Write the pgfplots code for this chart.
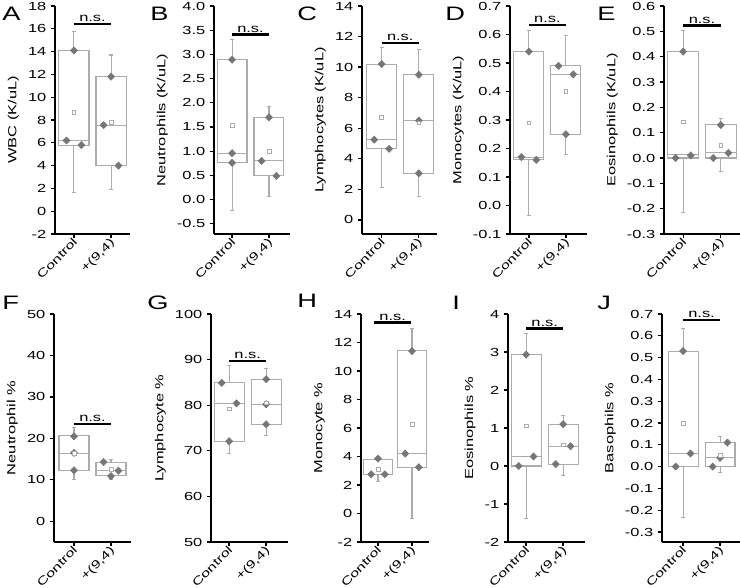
\documentclass[border=0pt]{standalone}
\usepackage{fontspec}
\setmainfont{Liberation Sans}[FakeStretch=1.4]
\usepackage{pgfplots}
\pgfplotsset{compat=1.18}
\usepgfplotslibrary{statistics}
\definecolor{boxgray}{RGB}{172,172,172}
\definecolor{ptgray}{RGB}{118,118,118}
\newcommand{\tfont}{\fontsize{8.8}{10}\selectfont}
\newcommand{\xfont}{\fontsize{8.5}{10}\selectfont}
\newcommand{\lfont}{\fontsize{14.6}{16}\selectfont}
\pgfplotsset{
 panel/.style={
  scale only axis, height=171pt, anchor=south west,
  axis x line=bottom, axis y line=left,
  axis line style={-, line width=1.4pt, black},
  tick align=outside, major tick length=3pt,
  major tick style={line width=1pt, black},
  xtick={0,1}, xticklabels={Control,{+(9,4)}},
  tick label style={font=\tfont},
  xticklabel style={rotate=45, anchor=north east, inner sep=0.5pt, yshift=2pt, font=\xfont},
  label style={font=\tfont},
  /pgf/number format/assume math mode=true,
  boxplot/draw direction=y,
  clip=false,
 },
 dec1/.style={yticklabel style={/pgf/number format/.cd, fixed, fixed zerofill, precision=1}},
 bx/.style={draw=boxgray, line width=0.8pt, solid},
 pts/.style={only marks, mark=diamond*, mark size=2.7pt, color=ptgray, mark options={xscale=1.3}},
 mn/.style={only marks, mark=square*, mark size=1.4pt, mark options={draw=boxgray, fill=white, line width=0.5pt}},
 ns/.style={black, line width=1.6pt},
}
\begin{document}
\begin{tikzpicture}
\useasboundingbox (0,0) rectangle (555pt,441pt);
% ---------------- A
\begin{axis}[panel, at={(41.25pt,265.5pt)}, width=56.25pt, xmin=-0.51, xmax=1.51,
  ymin=-2, ymax=18, ytick={-2,0,...,18}, ylabel={WBC (K/uL)}]
\addplot[bx, boxplot prepared={draw position=0, box extend=0.81, whisker extend=0.11,
  lower whisker=1.68, lower quartile=5.8, median=6.2, upper quartile=14.1, upper whisker=15.75}] coordinates {};
\addplot[bx, boxplot prepared={draw position=1, box extend=0.81, whisker extend=0.11,
  lower whisker=1.9, lower quartile=4.0, median=7.55, upper quartile=11.8, upper whisker=13.7}] coordinates {};
\addplot[pts] coordinates {(0,14.1) (-0.2,6.2) (0.2,5.8) (1,11.8) (0.8,7.55) (1.2,4.0)};
\addplot[mn] coordinates {(0,8.7) (1,7.8)};
\addplot[ns] coordinates {(0,16.4) (1,16.4)};
\node[above, inner sep=1.5pt, font=\tfont] at (axis cs:0.5,16.4) {n.s.};
\end{axis}
% ---------------- B
\begin{axis}[panel, dec1, at={(160.5pt,265.5pt)}, width=57pt, xmin=-0.49, xmax=1.57,
  ymin=-0.71, ymax=4.0, ytick={-0.5,0,0.5,1,1.5,2,2.5,3,3.5,4}, ylabel={Neutrophils (K/uL)}]
\addplot[bx, boxplot prepared={draw position=0, box extend=0.81, whisker extend=0.11,
  lower whisker=-0.22, lower quartile=0.76, median=0.96, upper quartile=2.89, upper whisker=3.30}] coordinates {};
\addplot[bx, boxplot prepared={draw position=1, box extend=0.81, whisker extend=0.11,
  lower whisker=0.06, lower quartile=0.49, median=0.80, upper quartile=1.70, upper whisker=1.93}] coordinates {};
\addplot[pts] coordinates {(0,2.89) (0,0.96) (0,0.76) (1,1.70) (0.8,0.80) (1.2,0.49)};
\addplot[mn] coordinates {(0,1.53) (1,1.0)};
\addplot[ns] coordinates {(0,3.41) (1,3.41)};
\node[above, inner sep=1.5pt, font=\tfont] at (axis cs:0.5,3.41) {n.s.};
\end{axis}
% ---------------- C
\begin{axis}[panel, at={(271.5pt,265.5pt)}, width=56.25pt, xmin=-0.53, xmax=1.49,
  ymin=-0.92, ymax=14, ytick={0,2,...,14}, ylabel={Lymphocytes (K/uL)}]
\addplot[bx, boxplot prepared={draw position=0, box extend=0.81, whisker extend=0.11,
  lower whisker=2.14, lower quartile=4.65, median=5.25, upper quartile=10.17, upper whisker=11.26}] coordinates {};
\addplot[bx, boxplot prepared={draw position=1, box extend=0.81, whisker extend=0.11,
  lower whisker=1.53, lower quartile=3.05, median=6.5, upper quartile=9.5, upper whisker=11.16}] coordinates {};
\addplot[pts] coordinates {(0,10.2) (-0.2,5.25) (0.2,4.65) (1,9.5) (1,6.5) (1,3.05)};
\addplot[mn] coordinates {(0,6.7) (1,6.35)};
\addplot[ns] coordinates {(0,11.6) (1,11.6)};
\node[above, inner sep=1.5pt, font=\tfont] at (axis cs:0.5,11.6) {n.s.};
\end{axis}
% ---------------- D
\begin{axis}[panel, dec1, at={(382.5pt,265.5pt)}, width=57.75pt, xmin=-0.51, xmax=1.57,
  ymin=-0.1, ymax=0.7, ytick={-0.1,0,0.1,0.2,0.3,0.4,0.5,0.6,0.7}, ylabel={Monocytes (K/uL)}]
\addplot[bx, boxplot prepared={draw position=0, box extend=0.81, whisker extend=0.11,
  lower whisker=-0.034, lower quartile=0.16, median=0.17, upper quartile=0.54, upper whisker=0.614}] coordinates {};
\addplot[bx, boxplot prepared={draw position=1, box extend=0.81, whisker extend=0.11,
  lower whisker=0.18, lower quartile=0.25, median=0.46, upper quartile=0.49, upper whisker=0.596}] coordinates {};
\addplot[pts] coordinates {(0,0.54) (-0.2,0.17) (0.2,0.16) (0.8,0.49) (1.2,0.46) (1,0.25)};
\addplot[mn] coordinates {(0,0.29) (1,0.40)};
\addplot[ns] coordinates {(0,0.633) (1,0.633)};
\node[above, inner sep=1.5pt, font=\tfont] at (axis cs:0.5,0.633) {n.s.};
\end{axis}
% ---------------- E
\begin{axis}[panel, dec1, at={(498pt,265.5pt)}, width=57pt, xmin=-0.51, xmax=1.51,
  ymin=-0.3, ymax=0.6, ytick={-0.3,-0.2,-0.1,0,0.1,0.2,0.3,0.4,0.5,0.6}, ylabel={Eosinophils (K/uL)}]
\addplot[bx, boxplot prepared={draw position=0, box extend=0.81, whisker extend=0.11,
  lower whisker=-0.215, lower quartile=0.0, median=0.013, upper quartile=0.42, upper whisker=0.503}] coordinates {};
\addplot[bx, boxplot prepared={draw position=1, box extend=0.81, whisker extend=0.11,
  lower whisker=-0.055, lower quartile=0.0, median=0.02, upper quartile=0.131, upper whisker=0.157}] coordinates {};
\addplot[pts] coordinates {(0,0.42) (-0.2,0.0) (0.2,0.01) (1,0.13) (0.8,0.0) (1.2,0.02)};
\addplot[mn] coordinates {(0,0.143) (1,0.05)};
\addplot[ns] coordinates {(0,0.523) (1,0.523)};
\node[above, inner sep=1.5pt, font=\tfont] at (axis cs:0.5,0.523) {n.s.};
\end{axis}
% ---------------- F
\begin{axis}[panel, at={(40.5pt,34.5pt)}, width=57.75pt, xmin=-0.54, xmax=1.54,
  ymin=-5, ymax=50, ytick={0,10,...,50}, ylabel={Neutrophil \%}]
\addplot[bx, boxplot prepared={draw position=0, box extend=0.81, whisker extend=0.11,
  lower whisker=10.16, lower quartile=12.26, median=16.45, upper quartile=20.6, upper whisker=22.66}] coordinates {};
\addplot[bx, boxplot prepared={draw position=1, box extend=0.81, whisker extend=0.11,
  lower whisker=10.0, lower quartile=10.97, median=12.18, upper quartile=14.27, upper whisker=15.0}] coordinates {};
\addplot[pts] coordinates {(0,20.5) (0,16.5) (0,12.3) (0.8,14.3) (1,10.9) (1.2,12.2)};
\addplot[mn] coordinates {(0,16.4) (1,12.6)};
\addplot[ns] coordinates {(0,23.5) (1,23.5)};
\node[above, inner sep=1.5pt, font=\tfont] at (axis cs:0.5,23.5) {n.s.};
\end{axis}
% ---------------- G
\begin{axis}[panel, at={(158.25pt,34.5pt)}, width=57.75pt, xmin=-0.49, xmax=1.59,
  ymin=50, ymax=100, ytick={50,60,...,100}, ylabel={Lymphocyte \%}]
\addplot[bx, boxplot prepared={draw position=0, box extend=0.81, whisker extend=0.11,
  lower whisker=69.5, lower quartile=72.1, median=80.4, upper quartile=84.9, upper whisker=88.8}] coordinates {};
\addplot[bx, boxplot prepared={draw position=1, box extend=0.81, whisker extend=0.11,
  lower whisker=73.4, lower quartile=75.8, median=80.2, upper quartile=85.7, upper whisker=88.0}] coordinates {};
\addplot[pts] coordinates {(-0.2,84.9) (0.2,80.4) (0,72.1) (1,85.7) (1,80.2) (1,75.8)};
\addplot[mn] coordinates {(0,79.2) (1,80.5)};
\addplot[ns] coordinates {(0,89.7) (1,89.7)};
\node[above, inner sep=1.5pt, font=\tfont] at (axis cs:0.5,89.7) {n.s.};
\end{axis}
% ---------------- H
\begin{axis}[panel, at={(270.75pt,34.5pt)}, width=51pt, xmin=-0.5, xmax=1.5,
  ymin=-2, ymax=14, ytick={-2,0,...,14}, ylabel={Monocyte \%}]
\addplot[bx, boxplot prepared={draw position=0, box extend=0.85, whisker extend=0.12,
  lower whisker=2.22, lower quartile=2.75, median=2.75, upper quartile=3.81, upper whisker=4.0}] coordinates {};
\addplot[bx, boxplot prepared={draw position=1, box extend=0.85, whisker extend=0.12,
  lower whisker=-0.37, lower quartile=3.25, median=4.2, upper quartile=11.41, upper whisker=12.97}] coordinates {};
\addplot[pts] coordinates {(0,3.85) (-0.2,2.75) (0.2,2.75) (1,11.4) (0.8,4.2) (1.2,3.25)};
\addplot[mn] coordinates {(0,3.12) (1,6.28)};
\addplot[ns] coordinates {(-0.12,13.4) (0.98,13.4)};
\node[above, inner sep=1.5pt, font=\tfont] at (axis cs:0.43,13.4) {n.s.};
\end{axis}
% ---------------- I
\begin{axis}[panel, at={(381pt,34.5pt)}, width=57.75pt, xmin=-0.49, xmax=1.59,
  ymin=-2, ymax=4, ytick={-2,-1,...,4}, ylabel={Eosinophils \%}]
\addplot[bx, boxplot prepared={draw position=0, box extend=0.81, whisker extend=0.11,
  lower whisker=-1.37, lower quartile=0.0, median=0.25, upper quartile=2.93, upper whisker=3.49}] coordinates {};
\addplot[bx, boxplot prepared={draw position=1, box extend=0.81, whisker extend=0.11,
  lower whisker=-0.24, lower quartile=0.05, median=0.52, upper quartile=1.1, upper whisker=1.32}] coordinates {};
\addplot[pts] coordinates {(0,2.93) (-0.2,0.0) (0.2,0.25) (1,1.1) (0.8,0.05) (1.2,0.52)};
\addplot[mn] coordinates {(0,1.06) (1,0.56)};
\addplot[ns] coordinates {(0,3.62) (1,3.62)};
\node[above, inner sep=1.5pt, font=\tfont] at (axis cs:0.5,3.62) {n.s.};
\end{axis}
% ---------------- J
\begin{axis}[panel, dec1, at={(496.5pt,34.5pt)}, width=58.5pt, xmin=-0.57, xmax=1.54,
  ymin=-0.346, ymax=0.7, ytick={-0.3,-0.2,-0.1,0,0.1,0.2,0.3,0.4,0.5,0.6,0.7}, ylabel={Basophils \%}]
\addplot[bx, boxplot prepared={draw position=0, box extend=0.81, whisker extend=0.11,
  lower whisker=-0.234, lower quartile=0.0, median=0.06, upper quartile=0.53, upper whisker=0.634}] coordinates {};
\addplot[bx, boxplot prepared={draw position=1, box extend=0.81, whisker extend=0.11,
  lower whisker=-0.029, lower quartile=0.0, median=0.04, upper quartile=0.11, upper whisker=0.136}] coordinates {};
\addplot[pts] coordinates {(0,0.53) (-0.2,0.0) (0.2,0.06) (1.2,0.11) (0.8,0.0) (1,0.04)};
\addplot[mn] coordinates {(0,0.197) (1,0.05)};
\addplot[ns] coordinates {(0,0.672) (1,0.672)};
\node[above, inner sep=1.5pt, font=\tfont] at (axis cs:0.5,0.672) {n.s.};
\end{axis}
% ---------------- panel letters
\node[anchor=north west, inner sep=0pt, font=\lfont] at (1.5pt,435.75pt) {A};
\node[anchor=north west, inner sep=0pt, font=\lfont] at (112.5pt,435.75pt) {B};
\node[anchor=north west, inner sep=0pt, font=\lfont] at (222.75pt,435.75pt) {C};
\node[anchor=north west, inner sep=0pt, font=\lfont] at (333.75pt,435.75pt) {D};
\node[anchor=north west, inner sep=0pt, font=\lfont] at (447.75pt,435.75pt) {E};
\node[anchor=north west, inner sep=0pt, font=\lfont] at (1.5pt,219pt) {F};
\node[anchor=north west, inner sep=0pt, font=\lfont] at (110.25pt,219pt) {G};
\node[anchor=north west, inner sep=0pt, font=\lfont] at (222.75pt,220.5pt) {H};
\node[anchor=north west, inner sep=0pt, font=\lfont] at (339pt,219pt) {I};
\node[anchor=north west, inner sep=0pt, font=\lfont] at (447.75pt,219pt) {J};
\end{tikzpicture}
\end{document}
